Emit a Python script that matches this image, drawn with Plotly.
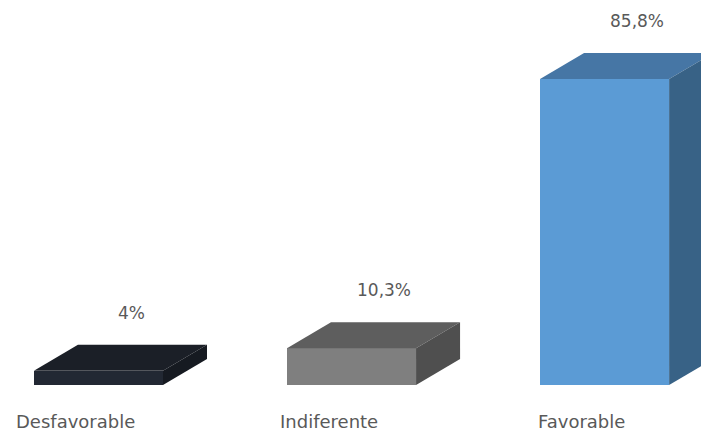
import plotly.graph_objects as go

categories = ["Desfavorable", "Indiferente", "Favorable"]
values = [4.0, 10.3, 85.8]
value_labels = ["4%", "10,3%", "85,8%"]

front_colors = ["#222833", "#7f7f7f", "#5b9bd5"]
top_colors = ["#1b1f27", "#5e5e5e", "#4676a5"]
side_colors = ["#161a21", "#4f4f4f", "#386286"]

W, H = 701, 429
bar_w = 0.51
dx = 0.174   # depth offset in x units
dy = 7.29    # depth offset in y units

xs = list(range(len(categories)))

fig = go.Figure()
fig.add_trace(go.Bar(x=xs, y=values, width=bar_w, marker=dict(color=front_colors, line=dict(width=0)),
                     showlegend=False, hoverinfo="skip"))

for i, v in enumerate(values):
    l, r = i - bar_w / 2, i + bar_w / 2
    # top face
    fig.add_trace(go.Scatter(x=[l, l + dx, r + dx, r, l], y=[v, v + dy, v + dy, v, v],
                             fill="toself", fillcolor=top_colors[i], mode="lines",
                             line=dict(width=0, color=top_colors[i]), showlegend=False, hoverinfo="skip"))
    # side face
    fig.add_trace(go.Scatter(x=[r, r, r + dx, r + dx, r], y=[0, v, v + dy, dy, 0],
                             fill="toself", fillcolor=side_colors[i], mode="lines",
                             line=dict(width=0, color=side_colors[i]), showlegend=False, hoverinfo="skip"))

annotations = []
for i, v in enumerate(values):
    annotations.append(dict(x=i + 0.13, y=v + dy + 9.0, text=value_labels[i], showarrow=False,
                            xanchor="center", yanchor="middle",
                            font=dict(family="DejaVu Sans", size=17, color="#595959")))
    annotations.append(dict(x=i - 0.09, y=-10.1, text=categories[i], showarrow=False,
                            xanchor="center", yanchor="middle",
                            font=dict(family="DejaVu Sans", size=18, color="#595959")))

fig.update_layout(
    width=W, height=H,
    margin=dict(l=0, r=0, t=0, b=0),
    paper_bgcolor="white", plot_bgcolor="white",
    xaxis=dict(range=[-0.389, 2.381], visible=False, fixedrange=True),
    yaxis=dict(range=[-12.34, 107.96], visible=False, fixedrange=True),
    annotations=annotations,
    bargap=0,
)

fig.write_html("out.html", config={"displayModeBar": False},
               post_script="document.body.style.margin='0';document.body.style.overflow='hidden';")
